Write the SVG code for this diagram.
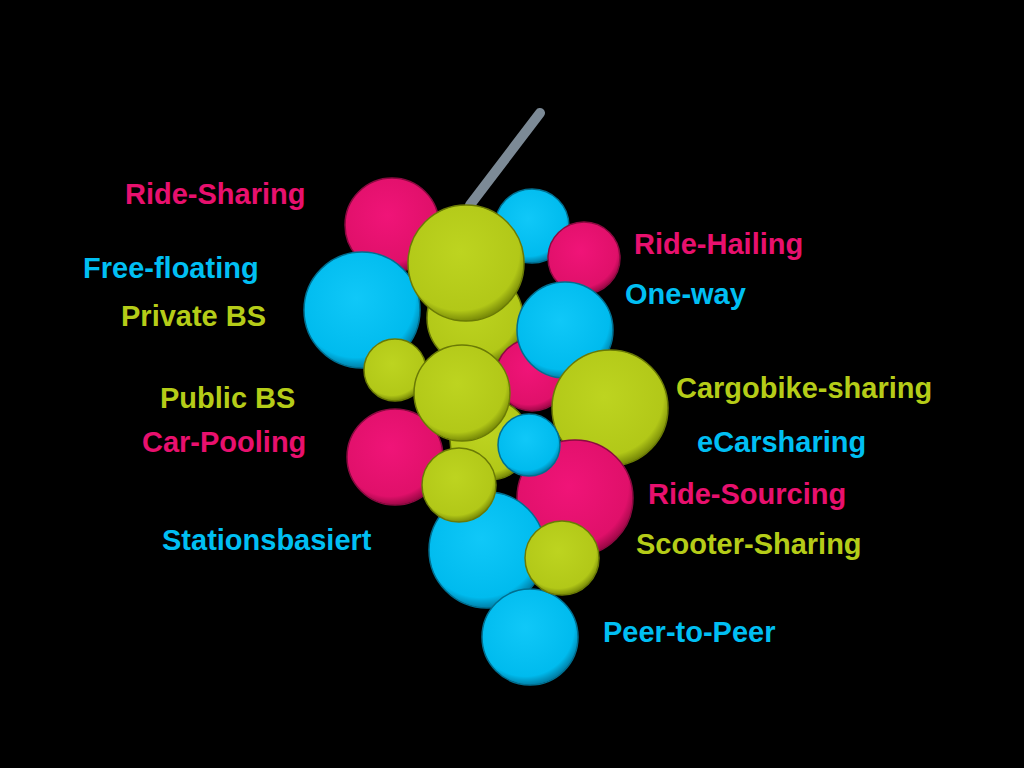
<svg xmlns="http://www.w3.org/2000/svg" width="1024" height="768" viewBox="0 0 1024 768">
<defs>
<radialGradient id="gp" cx="0.45" cy="0.4" r="0.6"><stop offset="0" stop-color="#F01478"/><stop offset="0.85" stop-color="#E0106A"/><stop offset="1" stop-color="#A00848"/></radialGradient>
<radialGradient id="gb" cx="0.45" cy="0.4" r="0.6"><stop offset="0" stop-color="#10C8F8"/><stop offset="0.85" stop-color="#00BBEE"/><stop offset="1" stop-color="#0080A8"/></radialGradient>
<radialGradient id="gg" cx="0.45" cy="0.4" r="0.6"><stop offset="0" stop-color="#BDD420"/><stop offset="0.85" stop-color="#B2C818"/><stop offset="1" stop-color="#7A8C08"/></radialGradient>
<style>
.p{fill:url(#gp);stroke:#8A0A40;stroke-width:1.5}
.b{fill:url(#gb);stroke:#006F90;stroke-width:1.5}
.g{fill:url(#gg);stroke:#6A7A05;stroke-width:1.5}
text{font-family:"Liberation Sans",Arial,sans-serif;font-weight:bold;font-size:29px}
.tp{fill:#E8106E}.tb{fill:#00BFF3}.tg{fill:#B5CC18}
</style>
</defs>
<rect width="1024" height="768" fill="#000"/>
<line x1="540" y1="113" x2="470" y2="205" stroke="#7C8A96" stroke-width="10" stroke-linecap="round"/>
<g id="grapes">
<circle class="p" cx="392" cy="225" r="47"/>
<circle class="b" cx="532" cy="226" r="37"/>
<circle class="p" cx="584" cy="258" r="36"/>
<circle class="b" cx="362" cy="310" r="58"/>
<circle class="g" cx="475" cy="318" r="48"/>
<circle class="p" cx="532" cy="375" r="36"/>
<circle class="b" cx="565" cy="330" r="48"/>
<circle class="g" cx="610" cy="408" r="58"/>
<circle class="g" cx="395" cy="370" r="31"/>
<circle class="p" cx="395" cy="457" r="48"/>
<circle class="p" cx="575" cy="498" r="58"/>
<circle class="g" cx="490" cy="440" r="40"/>
<circle class="g" cx="462" cy="393" r="48"/>
<circle class="b" cx="529" cy="445" r="31"/>
<circle class="b" cx="487" cy="550" r="58"/>
<circle class="g" cx="459" cy="485" r="37"/>
<circle class="b" cx="530" cy="637" r="48"/>
<circle class="g" cx="562" cy="558" r="37"/>
<circle class="g" cx="466" cy="263" r="58"/>
</g>
<g id="labels">
<text class="tp" x="125" y="204">Ride-Sharing</text>
<text class="tb" x="83" y="278">Free-floating</text>
<text class="tg" x="121" y="326">Private BS</text>
<text class="tg" x="160" y="408">Public BS</text>
<text class="tp" x="142" y="452">Car-Pooling</text>
<text class="tb" x="162" y="550">Stationsbasiert</text>
<text class="tp" x="634" y="254">Ride-Hailing</text>
<text class="tb" x="625" y="304">One-way</text>
<text class="tg" x="676" y="398">Cargobike-sharing</text>
<text class="tb" x="697" y="452">eCarsharing</text>
<text class="tp" x="648" y="504">Ride-Sourcing</text>
<text class="tg" x="636" y="554">Scooter-Sharing</text>
<text class="tb" x="603" y="642">Peer-to-Peer</text>
</g>
</svg>
